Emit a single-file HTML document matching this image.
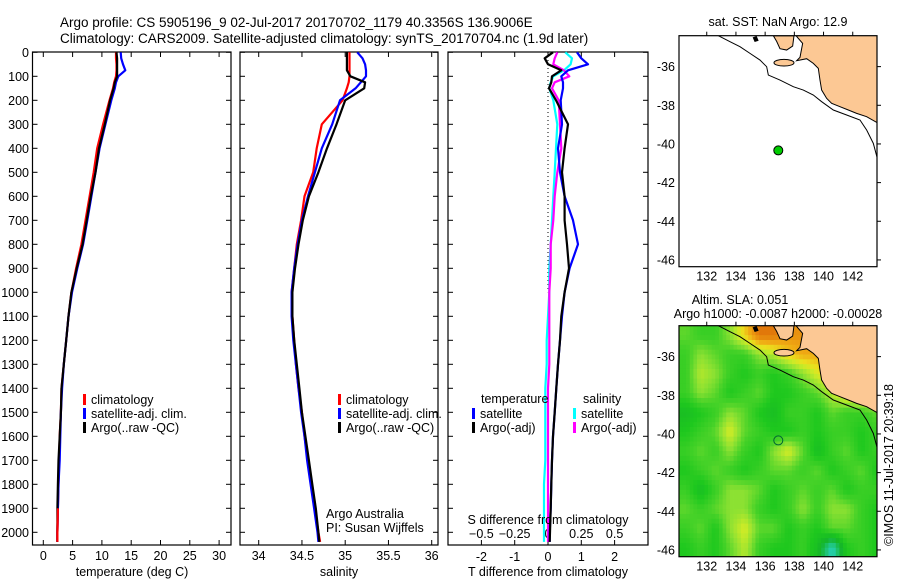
<!DOCTYPE html>
<html><head><meta charset="utf-8"><style>
body{margin:0;background:#fff}
svg{display:block;font-family:"Liberation Sans",sans-serif}
text{font-size:12.5px;fill:#000}
</style></head><body>
<svg id="c" width="900" height="580" viewBox="0 0 900 580">
<text x="60" y="27" style="font-size:13.5px">Argo profile: CS 5905196_9 02-Jul-2017 20170702_1179 40.3356S 136.9006E</text>
<text x="60" y="43" style="font-size:13.5px">Climatology: CARS2009. Satellite-adjusted climatology: synTS_20170704.nc (1.9d later)</text>
</svg>
<script>
// depth grid (m)
const depths=[0,25,50,75,100,125,150,200,300,400,500,600,700,800,900,1000,1100,1200,1300,1400,1500,1600,1700,1800,1900,2000,2040];
// temperature (deg C)
const tClim=[12.4,12.4,12.5,12.5,12.4,12.1,11.9,11.3,10.2,9.2,8.6,7.9,7.2,6.5,5.6,4.8,4.3,3.9,3.5,3.1,3.0,2.8,2.7,2.6,2.5,2.4,2.4];
const tSat=[13.2,13.3,13.6,14.0,12.8,12.4,12.2,11.6,10.6,9.6,8.9,8.2,7.5,6.8,5.8,4.9,4.3,3.9,3.5,3.2,3.0,2.9,2.8,2.6,2.5,2.4,2.4];
const tArgo=[12.5,12.6,12.6,12.6,12.6,12.2,12.0,11.4,10.5,9.5,8.9,8.1,7.4,6.7,5.7,4.8,4.3,3.9,3.5,3.1,3.0,2.8,2.6,2.5,2.4,2.4,2.4];
// salinity (psu)
const sClim=[35.05,35.05,35.05,35.05,35.05,35.04,35.02,34.97,34.73,34.67,34.63,34.53,34.49,34.44,34.41,34.38,34.39,34.41,34.43,34.46,34.50,34.53,34.57,34.61,34.65,34.69,34.71];
const sSat=[35.14,35.20,35.23,35.24,35.24,35.18,35.12,34.94,34.85,34.73,34.65,34.57,34.50,34.45,34.41,34.38,34.38,34.40,34.43,34.46,34.49,34.53,34.56,34.60,34.64,34.68,34.69];
const sArgo=[35.02,35.02,35.02,35.02,35.06,35.23,35.22,35.00,34.90,34.79,34.69,34.58,34.51,34.46,34.42,34.39,34.39,34.41,34.44,34.47,34.50,34.54,34.58,34.62,34.66,34.69,34.70];
// differences from climatology
const dTSat=[0.87,1.0,1.2,0.6,0.4,0.45,0.45,0.38,0.42,0.3,0.36,0.5,0.75,0.9,0.65,0.5,0.42,0.36,0.3,0.25,0.2,0.15,0.12,0.1,0.08,0.05,0.05];
const dTArgo=[0.15,-0.1,0.0,0.4,0.12,0.1,0.03,0.24,0.6,0.5,0.42,0.5,0.5,0.57,0.63,0.5,0.4,0.36,0.3,0.25,0.2,0.15,0.12,0.1,0.08,0.06,0.05];
const dSSat=[0.13,0.18,0.17,0.12,0.04,0.02,0.01,0.04,0.07,0.06,0.05,0.04,0.03,0.02,0.01,0.01,0.0,-0.01,-0.01,-0.02,-0.02,-0.02,-0.02,-0.03,-0.03,-0.03,-0.03];
const dSArgo=[0.07,0.05,0.04,0.12,0.16,0.05,0.03,0.08,0.09,0.1,0.07,0.05,0.04,0.02,0.02,0.01,0.01,0.01,0.01,0.0,0.0,0.0,0.0,0.0,0.0,0.0,0.0];
const depthTicks=[0,100,200,300,400,500,600,700,800,900,1000,1100,1200,1300,1400,1500,1600,1700,1800,1900,2000];
const tTicks=[0,5,10,15,20,25,30];
const sTicks=[34,34.5,35,35.5,36];
const dTTicks=[-2,-1,0,1,2];
const dSTicks=[-0.5,-0.25,0,0.25,0.5];
// maps
const lonTicks=[132,134,136,138,140,142];
const latTicks=[-36,-38,-40,-42,-44,-46];
const argoLon=136.9006, argoLat=-40.3356;
const slaLon0=130.1, slaLat0=-34.4;
const sla=[
[0.2,0.1,0.1,0.3,0.6,0.9,0.9,0.8,0.8,0.8,0.8,0.8,0.8,0.8],
[0.1,0.3,0.2,0.1,0.1,0.3,0.4,0.6,0.7,0.7,0.7,0.7,0.7,0.7],
[0.1,0.4,0.3,0.1,0.0,0.1,0.0,0.1,0.3,0.5,0.6,0.6,0.6,0.6],
[0.1,0.3,0.2,0.0,0.1,0.2,0.0,0.0,0.1,0.2,0.4,0.6,0.7,0.6],
[-0.1,0.0,0.1,0.3,0.2,0.0,-0.1,0.1,0.1,0.0,0.2,0.1,0.1,0.2],
[0.0,0.1,0.2,0.5,0.2,0.1,0.0,0.0,0.1,0.0,0.1,0.1,0.0,0.1],
[0.1,0.2,0.1,0.3,0.1,0.0,0.3,0.5,0.2,-0.1,0.1,0.2,0.0,0.1],
[0.0,0.1,0.2,0.1,0.0,0.1,0.2,0.2,0.1,0.2,0.0,0.1,0.2,0.0],
[0.1,-0.1,0.1,0.3,0.3,0.2,0.0,0.1,0.2,0.1,0.2,0.0,0.1,0.1],
[0.2,0.1,0.2,0.3,0.3,0.1,0.0,0.1,0.3,0.1,0.3,0.3,0.1,0.0],
[0.1,0.2,0.0,0.3,0.5,0.2,0.2,0.0,0.1,0.0,0.2,0.2,0.1,0.0],
[0.0,0.1,0.0,0.2,0.4,0.1,0.0,0.0,0.1,-0.1,-0.6,0.0,0.1,0.0]];

const NS='http://www.w3.org/2000/svg';
const svg=document.getElementById('c');
function mk(tag,attrs,parent){const e=document.createElementNS(NS,tag);for(const k in attrs)e.setAttribute(k,attrs[k]);(parent||svg).appendChild(e);return e;}
function txt(x,y,s,anchor,parent){const t=mk('text',{x:x,y:y,'text-anchor':anchor||'start'},parent);t.textContent=s;return t;}

const Y=d=>52.3+d*0.24;
const PTOP=52,PBOT=545;
function frame(x0,x1,name){const r=mk('rect',{x:x0,y:PTOP,width:x1-x0,height:PBOT-PTOP,fill:'none',stroke:'#000','stroke-width':1.2});

}
function yTicks(x0,x1,labels){depthTicks.forEach(d=>{mk('line',{x1:x0,y1:Y(d),x2:x0+5,y2:Y(d),stroke:'#000'});mk('line',{x1:x1,y1:Y(d),x2:x1-5,y2:Y(d),stroke:'#000'});
if(labels){const t=txt(29,Y(d)+4.5,String(d),'end');

}});}
function xTicks(ticks,X,ly,fmt,top){ticks.forEach(v=>{const x=X(v);mk('line',{x1:x,y1:PBOT,x2:x,y2:PBOT-5,stroke:'#000'});if(top)mk('line',{x1:x,y1:PTOP,x2:x,y2:PTOP+5,stroke:'#000'});
const t=txt(x,ly,fmt?fmt(v):String(v),'middle');

});}
function series(vals,X,color,name,w){const pts=[];vals.forEach((v,i)=>{if(v!=null)pts.push(X(v).toFixed(1)+','+Y(depths[i]).toFixed(1));});
const p=mk('polyline',{points:pts.join(' '),fill:'none',stroke:color,'stroke-width':w||2.2,'stroke-linejoin':'round'});

}
function legend(x,y,color,label,name){mk('rect',{x:x,y:y-10,width:3,height:11,fill:color});const t=txt(x+8,y,label);

}

// panel 1 temperature
const XT=v=>43.3+v*5.86;
frame(32.5,231,'temperature-panel');yTicks(32.5,231,true);xTicks(tTicks,XT,560,null,true);
series(tClim,XT,'#f00','temp-climatology-line');series(tSat,XT,'#00f','temp-satellite-line');series(tArgo,XT,'#000','temp-argo-line');
series(tClim.map((v,i)=>i>=24?v:null),XT,'#f00','temp-climatology-bottom');
legend(83,404,'#f00','climatology','legend-climatology');legend(83,418,'#00f','satellite-adj. clim.','legend-satellite');legend(83,432,'#000','Argo(..raw -QC)','legend-argo');
let t=txt(132,576,'temperature (deg C)','middle');

// panel 2 salinity
const XS=v=>258.7+(v-34)*86.5;
frame(240,438,'salinity-panel');yTicks(240,438,false);xTicks(sTicks,XS,560,null,true);
series(sClim,XS,'#f00','sal-climatology-line');series(sSat,XS,'#00f','sal-satellite-line');series(sArgo,XS,'#000','sal-argo-line');
legend(338,404,'#f00','climatology','legend-climatology-2');legend(338,418,'#00f','satellite-adj. clim.','legend-satellite-2');legend(338,432,'#000','Argo(..raw -QC)','legend-argo-2');
t=txt(326,518,'Argo Australia');
t=txt(326,532,'PI: Susan Wijffels');
t=txt(339,576,'salinity','middle');

// panel 3 differences
const XD=v=>548+v*33.3;const XDS=v=>548+v*133.2;
frame(448,648,'difference-panel');yTicks(448,648,false);xTicks(dTTicks,XD,561,null,true);
dSTicks.forEach(v=>{const tt=txt(XDS(v),538,String(v).replace('-','\u2212'),'middle');});
mk('line',{x1:548,y1:PTOP,x2:548,y2:Y(1000),stroke:'#000','stroke-dasharray':'1,3'});
series(dSSat,XDS,'#0ff','sdiff-satellite-line');series(dSArgo,XDS,'#f0f','sdiff-argo-line');
series(dTSat,XD,'#00f','tdiff-satellite-line');series(dTArgo,XD,'#000','tdiff-argo-line');
t=txt(481,403,'temperature');
t=txt(583,403,'salinity');
legend(472,418,'#00f','satellite','legend-tdiff-satellite');legend(472,432,'#000','Argo(-adj)','legend-tdiff-argo');
legend(573,418,'#0ff','satellite','legend-sdiff-satellite');legend(573,432,'#f0f','Argo(-adj)','legend-sdiff-argo');
t=txt(548,524,'S difference from climatology','middle');
t=txt(548,576,'T difference from climatology','middle');

// maps
const MX0=679,MX1=877,PXD=14.6,PYD=19.33;
const LX=lon=>MX0+(lon-slaLon0)*PXD;
function slaColor(v){const st=[[-0.6,[40,210,190]],[-0.2,[20,180,40]],[0,[30,200,30]],[0.15,[70,210,40]],[0.3,[140,225,50]],[0.45,[200,235,40]],[0.55,[235,225,30]],[0.7,[240,170,20]],[0.9,[225,120,10]]];
if(v<=st[0][0])return 'rgb('+st[0][1]+')';for(let i=1;i<st.length;i++){if(v<=st[i][0]){const a=st[i-1],b=st[i],f=(v-a[0])/(b[0]-a[0]);return 'rgb('+a[1].map((c,j)=>Math.round(c+(b[1][j]-c)*f)).join(',')+')';}}return 'rgb('+st[st.length-1][1]+')';}
function slaAt(fr,fc){// bilinear between cell centres
  const R=sla.length,C=sla[0].length;
  let r=Math.min(Math.max(fr-0.5,0),R-1),c=Math.min(Math.max(fc-0.5,0),C-1);
  const r0=Math.floor(r),c0=Math.floor(c),r1=Math.min(r0+1,R-1),c1=Math.min(c0+1,C-1),dr=r-r0,dc=c-c0;
  return sla[r0][c0]*(1-dr)*(1-dc)+sla[r0][c1]*(1-dr)*dc+sla[r1][c0]*dr*(1-dc)+sla[r1][c1]*dr*dc;}
function map(top,withSla,name){
  const LY=lat=>top+(slaLat0-lat)*PYD;
  const g=mk('g',{});
  
  
  const clip='clip'+Math.round(top);const cp=mk('clipPath',{id:clip},g);mk('rect',{x:MX0,y:top,width:MX1-MX0,height:231},cp);
  const inner=mk('g',{'clip-path':'url(#'+clip+')'},g);
  if(withSla){const S=4;const R=sla.length,C=sla[0].length;
    for(let i=0;i<R*S;i++)for(let j=0;j<C*S;j++){const v=slaAt((i+0.5)/S,(j+0.5)/S);
      const cell=mk('rect',{x:(LX(slaLon0+j/S)-0.2).toFixed(2),y:(LY(slaLat0-i/S)-0.2).toFixed(2),width:(PXD/S+0.4).toFixed(2),height:(PYD/S+0.4).toFixed(2),fill:slaColor(v)},inner);
      
      }}
  const geo=mk('g',{transform:'translate(640,'+top+') scale(0.3333) translate(0,-107)'},inner);
  mk('polygon',{points:'468,107 488,130 480,172 470,182 500,176 520,190 535,205 540,240 545,270 560,295 575,310 600,320 625,330 650,340 680,350 712,368 740,368 740,100',fill:'#fcc894',stroke:'#000','stroke-width':3},geo);
  mk('polygon',{points:'400,107 462,107 458,138 440,150 420,146 410,124',fill:'#fcc894',stroke:'#000','stroke-width':3},geo);
  mk('ellipse',{cx:432,cy:188,rx:30,ry:10,fill:'#fcc894',stroke:'#000','stroke-width':3},geo);
  mk('polygon',{points:'338,112 350,108 356,122 344,126',fill:'#000'},geo);
  mk('polyline',{points:'235,107 270,125 300,140 330,160 360,180 380,200 385,225 420,240 460,260 490,270 520,285 545,305 580,330 620,345 660,360 680,390 700,430 712,475',fill:'none',stroke:'#000','stroke-width':3},geo);
  mk('rect',{x:MX0,y:top,width:MX1-MX0,height:231,fill:'none',stroke:'#000','stroke-width':1.2},g);
  lonTicks.forEach(l=>{mk('line',{x1:LX(l),y1:top,x2:LX(l),y2:top-4,stroke:'#000'},g);const tt=txt(LX(l),top+245,String(l),'middle',g);
  });
  latTicks.forEach(l=>{mk('line',{x1:MX1,y1:LY(l),x2:MX1+4,y2:LY(l),stroke:'#000'},g);const tt=txt(675,LY(l)+4.5,String(l),'end',g);
  });
  const dot=mk('circle',{cx:LX(argoLon),cy:LY(argoLat),r:4.5,fill:withSla?'none':'#0c0',stroke:withSla?'#063':'#000','stroke-width':1},g);
  
  
}
map(35.7,false,'sst-map');
map(325.7,true,'sla-map');
t=txt(778,26,'sat. SST: NaN Argo: 12.9','middle');
t=txt(740,304,'Altim. SLA: 0.051','middle');
t=txt(778,318,'Argo h1000: -0.0087 h2000: -0.00028','middle');
t=txt(0,0,'\u00a9IMOS 11-Jul-2017 20:39:18','middle');t.setAttribute('transform','translate(893,465) rotate(-90)');

</script>
</body></html>
